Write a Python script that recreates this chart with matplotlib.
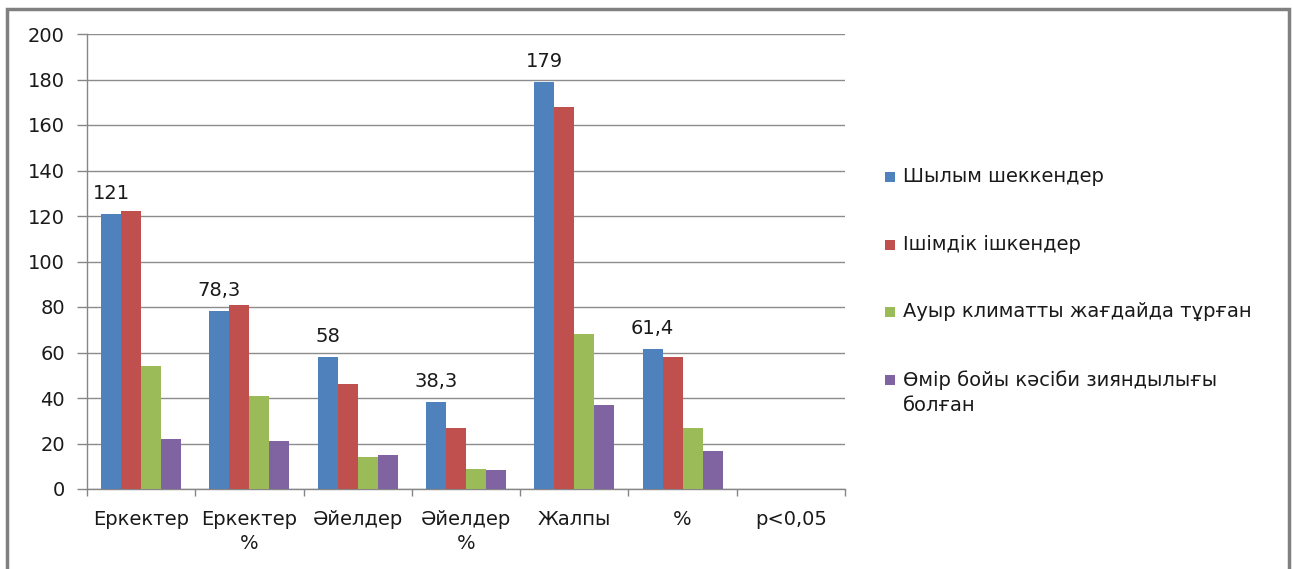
import matplotlib
matplotlib.use("Agg")
import matplotlib.pyplot as plt
from matplotlib.patches import Rectangle
import numpy as np

# ---- data ----
categories = ["Еркектер", "Еркектер\n%", "Әйелдер", "Әйелдер\n%", "Жалпы", "%", "p<0,05"]
series_names = ["Шылым шеккендер", "Ішімдік ішкендер",
                "Ауыр климатты жағдайда тұрған", "Өмір бойы кәсіби зияндылығы\nболған"]
smokers = [121, 78.3, 58, 38.3, 179, 61.4, 0]
drinkers = [122, 81, 46, 27, 168, 58, 0]
climate = [54, 41, 14, 9, 68, 27, 0]
occupational = [22, 21, 15, 8.5, 37, 16.5, 0]
yticks = [0, 20, 40, 60, 80, 100, 120, 140, 160, 180, 200]

series = [smokers, drinkers, climate, occupational]
colors = ["#4F81BD", "#C0504D", "#9BBB59", "#8064A2"]

W, H = 1293, 569
plt.rcParams['font.family'] = ['DejaVu Sans']
fs = 14
txt_color = "#1a1a1a"

fig = plt.figure(figsize=(W / 100, H / 100), dpi=100)
ax = fig.add_axes([87 / W, 1 - 489 / H, (845 - 87) / W, (489 - 34) / H])

x = np.arange(len(categories))
bw = 0.185
for i, (vals, c) in enumerate(zip(series, colors)):
    ax.bar(x + (i - 1.5) * bw, vals, width=bw, color=c, zorder=3, linewidth=0)

# data labels on first series
for xi, v in zip(x, smokers):
    if v > 0:
        lab = f"{v:g}".replace(".", ",")
        ax.annotate(lab, (xi - 1.5 * bw, v), xytext=(0, 8), textcoords="offset points",
                    ha="center", va="bottom", fontsize=fs, color=txt_color)

ax.set_xlim(-0.5, len(categories) - 0.5)
ax.set_ylim(0, 200)
ax.set_yticks(yticks)
ax.set_yticklabels([str(t) for t in yticks])
ax.yaxis.grid(True, color="#8c8c8c", linewidth=1.0, zorder=0)
ax.set_axisbelow(True)

ax.set_xticks(x)
ax.set_xticklabels(categories, fontsize=fs, color=txt_color, linespacing=1.35)
ax.set_xticks(np.arange(-0.5, len(categories), 1.0), minor=True)
ax.tick_params(axis="x", which="major", length=0, pad=15)
ax.tick_params(axis="x", which="minor", length=5, color="#868686", width=1)
ax.tick_params(axis="y", which="major", length=7, color="#868686", width=1,
               labelsize=fs, labelcolor=txt_color, pad=9)

for s in ["top", "right"]:
    ax.spines[s].set_visible(False)
for s in ["left", "bottom"]:
    ax.spines[s].set_color("#868686")
    ax.spines[s].set_linewidth(1)

# legend (manual, aligned like reference)
row_y = [177, 245, 312, 380]
for name, c, py in zip(series_names, colors, row_y):
    fig.patches.append(Rectangle((885 / W, 1 - (py + 5) / H), 10 / W, 10 / H,
                                 transform=fig.transFigure, facecolor=c,
                                 edgecolor="none", figure=fig))
    fig.text(903 / W, 1 - (py - 10) / H, name, fontsize=fs, color=txt_color,
             ha="left", va="top", linespacing=1.45)

# outer border
fig.patches.append(Rectangle((7 / W, -0.05), (1289 - 7) / W, 1 - 9 / H + 0.05,
                             transform=fig.transFigure, fill=False,
                             edgecolor="#808080", linewidth=2.5, figure=fig))

fig.savefig("out.png", dpi=100, facecolor="white")
